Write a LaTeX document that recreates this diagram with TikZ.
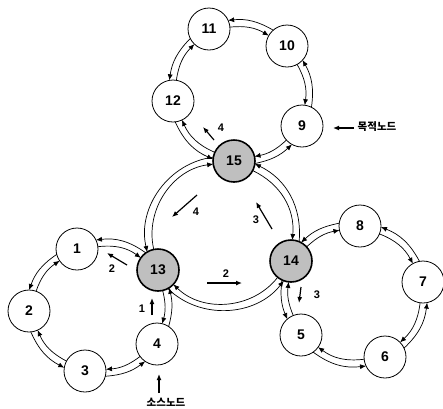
\documentclass[tikz,border=0pt]{standalone}
\usepackage{fontspec}
\setmainfont{Liberation Sans}
\newfontfamily\krfont{Noto Sans CJK KR}
\usetikzlibrary{arrows.meta,calc}
\tikzset{
  nd/.style={circle,draw,line width=0.8pt,minimum size=42pt,inner sep=0pt,outer sep=0pt,fill=white,
    font=\fontsize{14}{14}\selectfont\bfseries},
  hub/.style={nd,fill=black!25,line width=1.6pt},
  link/.style={line width=0.7pt},
  tip/.style={-{Latex[length=6pt,width=5pt]}},
  tipback/.style={{Latex[length=6pt,width=5pt]}-},
  lbl/.style={font=\fontsize{11}{11}\selectfont\bfseries,inner sep=0pt},
  hint/.style={line width=1.2pt,-{Latex[length=6pt,width=5pt]}},
  kr/.style={font=\krfont\fontsize{10.5}{10.5}\selectfont\bfseries,inner sep=0pt}
}
% ring centre #1, node #2, node #3; going from #2 to #3 runs counterclockwise
\newcommand\ringlink[3]{%
  \path (#1); \pgfgetlastxy{\rcx}{\rcy}%
  \path (#2); \pgfgetlastxy{\rax}{\ray}%
  \path (#3); \pgfgetlastxy{\rbx}{\rby}%
  \pgfmathsetmacro\angA{atan2(\ray-\rcy,\rax-\rcx)}%
  \pgfmathsetmacro\angB{atan2(\rby-\rcy,\rbx-\rcx)}%
  \pgfmathsetmacro\spn{mod(\angB-\angA+720,360)}%
  \pgfmathsetmacro\chd{atan2(\rby-\ray,\rbx-\rax)}%
  \pgfmathsetmacro\len{veclen(\rbx-\rax,\rby-\ray)}%
  \pgfmathsetmacro\dl{2*asin(21*sin(\spn/2)/\len)}%
  \pgfmathsetmacro\dev{(\spn-\dl)/2}%
  \pgfmathsetmacro\bnd{(\spn-2*\dl)/2}%
  \pgfmathsetmacro\oA{\chd-\dev-9.6}%
  \pgfmathsetmacro\oB{\chd+\dev+180+9.6}%
  \pgfmathsetmacro\iA{\chd-\dev+9.6}%
  \pgfmathsetmacro\iB{\chd+\dev+180-9.6}%
  \draw[link,tip] ([shift={(\oA:21pt)}]#2.center) to[bend right=\bnd] ([shift={(\oB:21pt)}]#3.center);
  \draw[link,tipback] ([shift={(\iA:21pt)}]#2.center) to[bend right=\bnd] ([shift={(\iB:21pt)}]#3.center);
}
\begin{document}
\begin{tikzpicture}[x=1pt,y=-1pt]
\useasboundingbox (0,0) rectangle (443,408);
% ring centres
\coordinate (cL) at (98,306);
\coordinate (cT) at (240,92);
\coordinate (cR) at (355,294);
\coordinate (cM) at (222,234);
% nodes
\node[nd]  (n1)  at (77,249)  {1};
\node[nd]  (n2)  at (29,311)  {2};
\node[nd]  (n3)  at (85,371)  {3};
\node[nd]  (n4)  at (157,344) {4};
\node[nd]  (n5)  at (301,335) {5};
\node[nd]  (n6)  at (385,357) {6};
\node[nd]  (n7)  at (423,282) {7};
\node[nd]  (n8)  at (360,226) {8};
\node[nd]  (n9)  at (302,126) {9};
\node[nd]  (n10) at (287,46)  {10};
\node[nd]  (n11) at (209,29)  {11};
\node[nd]  (n12) at (173,101) {12};
\node[hub] (n13) at (158,270) {13};
\node[hub] (n14) at (291,261) {14};
\node[hub] (n15) at (234,161) {15};
% links
\ringlink{cL}{n13}{n1}
\ringlink{cL}{n1}{n2}
\ringlink{cL}{n2}{n3}
\ringlink{cL}{n3}{n4}
\ringlink{cL}{n4}{n13}
\ringlink{cT}{n15}{n9}
\ringlink{cT}{n9}{n10}
\ringlink{cT}{n10}{n11}
\ringlink{cT}{n11}{n12}
\ringlink{cT}{n12}{n15}
\ringlink{cR}{n7}{n8}
\ringlink{cR}{n8}{n14}
\ringlink{cR}{n14}{n5}
\ringlink{cR}{n5}{n6}
\ringlink{cR}{n6}{n7}
\ringlink{cM}{n13}{n14}
\ringlink{cM}{n14}{n15}
\ringlink{cM}{n15}{n13}
% hint arrows
\coordinate (h1a) at (214,140); \coordinate (h1b) at (203,127);
\coordinate (h2a) at (197,195); \coordinate (h2b) at (172,217);
\coordinate (h3a) at (272,229); \coordinate (h3b) at (256,202);
\coordinate (h4a) at (207,283); \coordinate (h4b) at (242,283);
\coordinate (h5a) at (127,265); \coordinate (h5b) at (107,253);
\coordinate (h6a) at (152,315); \coordinate (h6b) at (152,298);
\coordinate (h7a) at (301,287); \coordinate (h7b) at (299,303);
\coordinate (hsa) at (159,393); \coordinate (hsb) at (159,374);
\coordinate (hta) at (354,128); \coordinate (htb) at (333,128);
\draw[hint] (h1a) -- (h1b);
\draw[hint] (h2a) -- (h2b);
\draw[hint] (h3a) -- (h3b);
\draw[hint] (h4a) -- (h4b);
\draw[hint] (h5a) -- (h5b);
\draw[hint] (h6a) -- (h6b);
\draw[hint] (h7a) -- (h7b);
\draw[hint] (hsa) -- (hsb);
\draw[hint] (hta) -- (htb);
\node[lbl] (l1) at (221,128) {4};
\node[lbl] (l2) at (196,212) {4};
\node[lbl] (l3) at (256,220) {3};
\node[lbl] (l4) at (226,274) {2};
\node[lbl] (l5) at (112,269) {2};
\node[lbl] (l6) at (142,309) {1};
\node[lbl] (l7) at (317,295) {3};
\node[kr] (src) at (166,402) {소스노드};
\node[kr] (dst) at (377,127) {목적노드};
\end{tikzpicture}
\end{document}
